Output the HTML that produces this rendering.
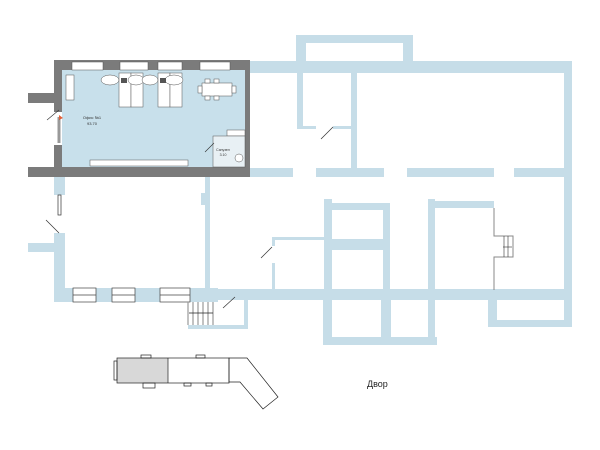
<!DOCTYPE html>
<html><head><meta charset="utf-8"><style>html,body{margin:0;padding:0;background:#fff}svg{display:block}</style></head>
<body>
<svg width="600" height="450" viewBox="0 0 600 450" xmlns="http://www.w3.org/2000/svg" font-family="Liberation Sans, sans-serif">
<g fill="#c6dde8">
<!-- top protrusion -->
<rect x="296" y="35" width="117" height="8"/><rect x="296" y="35" width="10" height="30"/><rect x="403" y="35" width="10" height="30"/>
<!-- top wall -->
<rect x="250" y="61" width="322" height="12"/>
<rect x="564" y="61" width="8" height="266"/>
<rect x="297" y="73" width="6" height="56"/><rect x="297" y="126" width="19" height="3"/><rect x="333" y="126" width="20" height="3"/>
<rect x="351" y="73" width="6" height="96"/>
<!-- mid wall -->
<rect x="250" y="168" width="43" height="9"/><rect x="316" y="168" width="68" height="9"/><rect x="407" y="168" width="87" height="9"/><rect x="514" y="168" width="50" height="9"/>
<!-- lower block -->
<rect x="324" y="199" width="8" height="146"/><rect x="324" y="203" width="66" height="7"/><rect x="383" y="203" width="7" height="87"/>
<rect x="332" y="239" width="51" height="11"/>
<rect x="428" y="199" width="7" height="146"/><rect x="435" y="201" width="59" height="7"/>
<rect x="272" y="237" width="52" height="3"/><rect x="272" y="237" width="3" height="9"/><rect x="272" y="263" width="3" height="27"/>
<!-- bottom horizontal -->
<rect x="210" y="289" width="362" height="11"/>
<rect x="323" y="300" width="9" height="45"/><rect x="323" y="337" width="114" height="8"/><rect x="381" y="300" width="10" height="40"/>
<rect x="488" y="300" width="9" height="27"/><rect x="488" y="320" width="84" height="7"/>
<!-- lower left room -->
<rect x="54" y="177" width="11" height="18"/><rect x="54" y="233" width="11" height="69"/><rect x="28" y="243" width="30" height="9"/>
<rect x="54" y="288" width="164" height="14"/>
<rect x="205" y="177" width="5" height="113"/><rect x="201" y="193" width="5" height="12"/>
<rect x="188" y="325" width="60" height="4"/><rect x="244" y="290" width="4" height="39"/>
</g>
<!-- bottom windows -->
<g fill="#fff" stroke="#444" stroke-width="0.7">
<rect x="73" y="288" width="23" height="14"/><rect x="112" y="288" width="23" height="14"/><rect x="160" y="288" width="30" height="14"/>
</g>
<g stroke="#444" stroke-width="0.7"><line x1="73" y1="295" x2="96" y2="295"/><line x1="112" y1="295" x2="135" y2="295"/><line x1="160" y1="295" x2="190" y2="295"/></g>
<!-- stairs -->
<g stroke="#999" stroke-width="1.2"><line x1="188" y1="302" x2="188" y2="325"/><line x1="193" y1="302" x2="193" y2="325"/><line x1="198" y1="302" x2="198" y2="325"/><line x1="203" y1="302" x2="203" y2="325"/><line x1="208" y1="302" x2="208" y2="325"/><line x1="213" y1="302" x2="213" y2="325"/></g>
<line x1="189" y1="313" x2="213" y2="313" stroke="#222" stroke-width="0.7"/>
<g stroke="#333" stroke-width="0.7" fill="none">
<line x1="223" y1="308" x2="235" y2="297"/><line x1="261" y1="258" x2="272" y2="247"/><line x1="321" y1="139" x2="333" y2="127"/>
<line x1="46" y1="220" x2="59" y2="233"/>
<rect x="58" y="195" width="3" height="20"/>
</g>
<g stroke="#888" stroke-width="1" fill="none"><polyline points="494,208 494,236 513,236 513,257 494,257 494,290"/></g>
<g stroke="#333" stroke-width="0.6"><line x1="504" y1="236" x2="504" y2="257"/><line x1="508" y1="236" x2="508" y2="257"/><line x1="503" y1="247" x2="512" y2="247"/></g>
<!-- office -->
<rect x="28" y="167" width="222" height="10" fill="#7b7b7b"/>
<rect x="54" y="60" width="196" height="10" fill="#7b7b7b"/>
<rect x="54" y="60" width="8" height="52" fill="#7b7b7b"/>
<rect x="54" y="145" width="8" height="30" fill="#7b7b7b"/>
<rect x="28" y="93" width="30" height="10" fill="#7b7b7b"/>
<rect x="245" y="60" width="5" height="117" fill="#7b7b7b"/>
<rect x="62" y="70" width="183" height="97" fill="#c8e0eb"/>
<g fill="#fff" stroke="#555" stroke-width="0.5">
<rect x="72" y="62" width="31" height="8"/><rect x="120" y="62" width="28" height="8"/><rect x="158" y="62" width="24" height="8"/><rect x="200" y="62" width="30" height="8"/>
<rect x="66" y="75" width="8" height="25"/>
<rect x="119" y="73" width="12" height="34"/><rect x="131" y="73" width="12" height="34"/>
<rect x="158" y="73" width="12" height="34"/><rect x="170" y="73" width="12" height="34"/>
<rect x="202" y="83" width="30" height="13"/>
<rect x="205" y="79" width="5" height="4"/><rect x="214" y="79" width="5" height="4"/><rect x="205" y="96" width="5" height="4"/><rect x="214" y="96" width="5" height="4"/>
<rect x="198" y="86" width="4" height="7"/><rect x="232" y="86" width="4" height="7"/>
<rect x="90" y="160" width="98" height="6"/>
<rect x="227" y="130" width="18" height="6"/>
<rect x="213" y="136" width="32" height="31" fill="#e8f0f4"/>
<ellipse cx="239" cy="158" rx="4" ry="4"/>
</g>
<g fill="#fff" stroke="#555" stroke-width="0.5">
<ellipse cx="110" cy="80" rx="9" ry="5"/><ellipse cx="136" cy="80" rx="8" ry="5"/><ellipse cx="150" cy="80" rx="8" ry="5"/><ellipse cx="174" cy="80" rx="9" ry="5"/>
</g>
<g fill="#555"><rect x="121" y="78" width="6" height="5"/><rect x="160" y="78" width="6" height="5"/></g>
<line x1="59" y1="117" x2="59" y2="143" stroke="#333" stroke-width="2.5"/><line x1="59" y1="117" x2="59" y2="143" stroke="#fff" stroke-width="1"/>
<line x1="47" y1="120" x2="59" y2="110" stroke="#333" stroke-width="0.6"/>
<line x1="205" y1="152" x2="214" y2="143" stroke="#333" stroke-width="0.6"/>
<polygon points="59,115 63,118 59,120" fill="#e0603a"/>
<text x="92" y="119" font-size="4" text-anchor="middle" fill="#333">Офис №1</text>
<text x="92" y="125" font-size="4" text-anchor="middle" fill="#333">93.70</text>
<text x="223" y="151" font-size="3.5" text-anchor="middle" fill="#333">Санузел</text>
<text x="223" y="156" font-size="3.5" text-anchor="middle" fill="#333">3.10</text>
<!-- mini map -->
<rect x="117" y="358" width="51" height="25" fill="#d8d8d8"/>
<g fill="none" stroke="#222" stroke-width="0.7">
<rect x="117" y="358" width="112" height="25"/>
<line x1="168" y1="358" x2="168" y2="383"/>
<polygon points="229,358 247,358 278,397 263,409 240,382 229,382"/>
<rect x="114" y="361" width="3" height="19"/><rect x="141" y="355" width="10" height="3"/><rect x="196" y="355" width="9" height="3"/>
<rect x="143" y="383" width="12" height="5"/><rect x="184" y="383" width="7" height="3"/><rect x="206" y="383" width="6" height="3"/>
</g>
<text x="367" y="387" font-size="9" fill="#222">Двор</text>
</svg>
</body></html>
